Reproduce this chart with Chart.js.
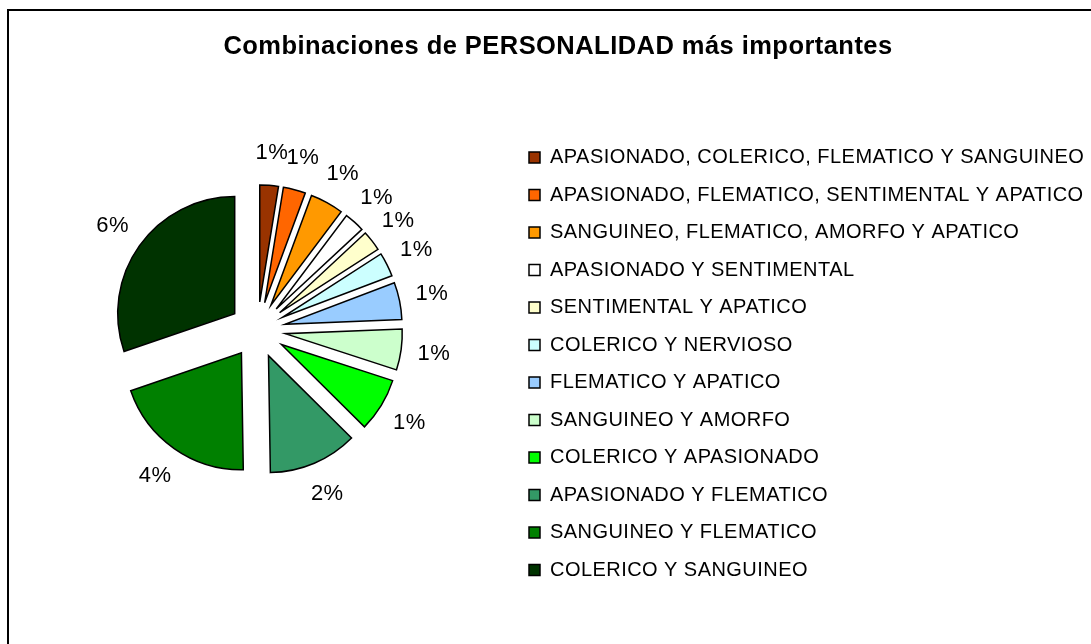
<!DOCTYPE html>
<html>
<head>
<meta charset="utf-8">
<title>Combinaciones de PERSONALIDAD</title>
<script src="https://cdn.jsdelivr.net/npm/chart.js@4.4.1/dist/chart.umd.min.js"></script>
<style>
  html, body { margin: 0; padding: 0; background: #fff; overflow: hidden; }
  #wrap { position: relative; width: 1091px; height: 644px; }
  #frame { position: absolute; left: 7px; top: 9px; width: 1200px; height: 800px;
           border-left: 2px solid #000; border-top: 2px solid #000; }
  #personalidad { position: absolute; left: 0; top: 0; }
</style>
</head>
<body>
<div id="wrap">
  <div id="frame"></div>
  <canvas id="personalidad" width="1091" height="644"></canvas>
</div>
<script>
const categories = [
    'APASIONADO, COLERICO, FLEMATICO Y SANGUINEO',
    'APASIONADO, FLEMATICO, SENTIMENTAL Y APATICO',
    'SANGUINEO, FLEMATICO, AMORFO Y APATICO',
    'APASIONADO Y SENTIMENTAL',
    'SENTIMENTAL Y APATICO',
    'COLERICO Y NERVIOSO',
    'FLEMATICO Y APATICO',
    'SANGUINEO Y AMORFO',
    'COLERICO Y APASIONADO',
    'APASIONADO Y FLEMATICO',
    'SANGUINEO Y FLEMATICO',
    'COLERICO Y SANGUINEO'
];
// percentages (labels are rounded)
const values = [0.5, 0.6, 0.9, 0.55, 0.55, 0.65, 1.0, 1.1, 1.45, 2.4, 3.9, 5.9];
const sliceLabels = ['1%', '1%', '1%', '1%', '1%', '1%', '1%', '1%', '1%', '2%', '4%', '6%'];
const colors = [
    '#993300', '#FF6600', '#FF9900', '#FFFFFF', '#FFFFCC', '#CCFFFF',
    '#99CCFF', '#CCFFCC', '#00FF00', '#339966', '#008000', '#003300'
];

const FONT = '"Liberation Sans", Arial, sans-serif';
const EXPLODE = 28;      // distance each slice is pulled out
const LABEL_GAP = 33;    // label distance past the slice edge
const TITLE_CENTER = 558;
const LEGEND_NUDGE = -2;

Chart.defaults.font.family = FONT;
Chart.defaults.color = '#000';

// Excel-like slightly loose text
const letterSpacing = {
    id: 'letterSpacing',
    beforeLayout(chart) { chart.ctx.letterSpacing = '0.45px'; },
    beforeDraw(chart) { chart.ctx.letterSpacing = '0.45px'; }
};

// title centred over the whole picture, legend allowed to run to the right edge
const placeBoxes = {
    id: 'placeBoxes',
    afterLayout(chart) {
        const t = chart.titleBlock;
        const dx = TITLE_CENTER - (t.left + t.right) / 2;
        t.left += dx;
        t.right += dx;
        const lg = chart.legend;
        lg.left += LEGEND_NUDGE;
        lg.right = chart.width;
        lg.width = lg.right - lg.left;
    }
};

// exploded pie: every slice pushed out along its middle angle
const explode = {
    id: 'explode',
    beforeDatasetDraw(chart, args) {
        const ctx = chart.ctx;
        args.meta.data.forEach(arc => {
            const mid = (arc.startAngle + arc.endAngle) / 2;
            ctx.save();
            ctx.translate(Math.cos(mid) * EXPLODE, Math.sin(mid) * EXPLODE);
            arc.draw(ctx);
            ctx.restore();
        });
        return false;
    }
};

const percentLabels = {
    id: 'percentLabels',
    afterDatasetsDraw(chart) {
        const ctx = chart.ctx;
        const meta = chart.getDatasetMeta(0);
        ctx.save();
        ctx.font = '22px ' + FONT;
        ctx.fillStyle = '#000';
        ctx.textAlign = 'center';
        ctx.textBaseline = 'middle';
        meta.data.forEach((arc, i) => {
            const mid = (arc.startAngle + arc.endAngle) / 2;
            const r = arc.outerRadius + EXPLODE + LABEL_GAP;
            ctx.fillText(sliceLabels[i], arc.x + Math.cos(mid) * r, arc.y + Math.sin(mid) * r);
        });
        ctx.restore();
    }
};

const ctx = document.getElementById('personalidad').getContext('2d');
new Chart(ctx, {
    type: 'pie',
    data: {
        labels: categories,
        datasets: [{
            data: values,
            backgroundColor: colors,
            borderColor: '#000',
            borderWidth: 1.5,
            borderJoinStyle: 'miter',
            radius: 117
        }]
    },
    options: {
        responsive: false,
        animation: false,
        layout: {
            padding: { left: 1.5, right: 65.5, top: 18, bottom: 46.5 }
        },
        plugins: {
            title: {
                display: true,
                text: 'Combinaciones de PERSONALIDAD más importantes',
                font: { size: 25.5, weight: 'bold', lineHeight: 1.1 },
                color: '#000',
                padding: { top: 14.9, bottom: 1.3 }
            },
            legend: {
                position: 'right',
                align: 'end',
                labels: {
                    boxWidth: 11,
                    boxHeight: 11,
                    padding: 17.5,
                    color: '#000',
                    font: { size: 20 }
                }
            },
            tooltip: { enabled: false }
        }
    },
    plugins: [letterSpacing, placeBoxes, explode, percentLabels]
});
</script>
</body>
</html>
